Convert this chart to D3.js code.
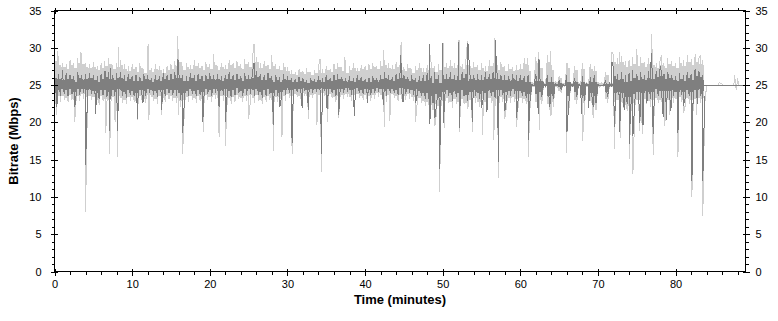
<!DOCTYPE html>
<html>
<head>
<meta charset="utf-8">
<script src="https://cdn.jsdelivr.net/npm/d3@7"></script>
<style>
  body { margin: 0; background: #fff; }
  svg text { font-family: "Liberation Sans", Arial, sans-serif; fill: #000; }
  .axis path { display: none; }
  .axis line { stroke: #000; shape-rendering: crispEdges; }
</style>
</head>
<body>
<svg id="chart" width="778" height="321"></svg>
<script>
// bitrate envelope per half-minute bin (t = 0, 0.5, ... 83.5)
var darkHi = [
  26.8,26.5,26.3,26.6,26.4,26.2,26.7,26.3,26.5,26.6,
  26.4,26.2,26.5,26.9,26.7,26.4,26.6,26.8,26.3,26.5,
  26.2,26.4,26.1,26.5,26.3,26.0,26.4,26.2,26.6,26.3,
  26.5,26.7,26.9,26.4,26.2,26.6,26.3,26.5,26.2,26.4,
  26.6,26.3,26.5,26.2,26.4,26.7,26.3,26.5,26.2,26.6,
  26.4,26.8,26.9,26.5,26.3,26.6,26.2,26.4,26.1,26.5,
  26.2,26.0,25.8,26.1,25.9,25.7,26.0,25.8,26.2,25.9,
  26.3,26.0,26.4,26.5,26.1,25.9,26.2,26.0,26.3,26.1,
  25.8,26.0,26.2,25.9,26.4,26.7,26.3,26.1,26.5,26.6,
  26.4,26.1,26.3,26.0,26.2,26.4,26.6,26.2,26.8,26.3,
  26.7,26.5,26.8,26.4,26.6,26.7,26.5,26.6,26.3,26.5,
  26.4,26.7,26.5,26.8,26.6,26.3,26.4,26.2,26.5,26.3,
  26.4,26.2,26.3,25.1,26.5,26.2,25.2,26.4,26.1,25.2,
  25.6,25.1,26.3,25.2,26.0,25.1,26.2,25.2,26.1,26.4,
  25.1,25.0,25.6,25.2,27.3,26.5,26.8,26.3,26.6,27.0,
  26.5,26.8,26.4,26.9,26.6,26.9,27.3,26.5,26.8,26.4,
  26.2,26.6,26.3,26.8,26.5,27.1,26.9,26.4
];
var darkLo = [
  23.2,23.6,23.8,23.5,23.8,23.3,23.7,23.9,23.6,23.8,
  23.5,23.1,23.7,23.4,23.2,23.6,23.8,23.5,23.3,23.7,
  23.6,23.2,23.8,23.5,23.9,23.7,23.4,23.8,23.6,23.9,
  23.7,23.5,23.0,23.2,23.6,23.8,23.5,23.7,23.4,23.8,
  23.6,23.9,23.5,23.7,23.8,23.4,23.6,23.9,23.5,23.7,
  23.8,23.5,23.7,23.3,23.6,23.8,23.2,23.6,23.4,23.7,
  24.0,23.8,24.1,23.9,24.2,23.8,24.0,24.1,23.9,24.2,
  23.9,24.0,23.6,23.8,24.0,24.1,23.7,23.9,24.0,23.8,
  24.0,23.7,23.9,24.1,23.8,23.6,23.9,24.0,23.7,23.9,
  23.8,24.0,23.7,23.9,23.5,23.2,23.0,22.6,22.8,22.4,
  23.2,23.6,22.9,23.4,23.0,23.5,22.8,23.3,23.6,23.1,
  23.4,23.0,23.6,23.2,23.5,23.7,23.3,23.6,23.8,23.5,
  23.5,23.3,23.0,24.9,22.9,23.4,24.8,22.6,23.1,24.9,
  24.4,24.9,22.7,24.8,23.4,24.9,22.9,24.8,23.2,22.6,
  24.9,25.0,23.6,24.8,22.8,23.2,22.9,22.5,22.4,22.8,
  23.3,23.0,23.4,23.1,23.3,23.6,23.2,23.5,23.3,23.6,
  23.4,23.7,23.3,23.5,23.2,23.4,23.6,23.5
];
var lightHi = [
  29.2,28.4,28.0,27.8,28.3,27.9,28.6,28.4,28.0,27.8,
  28.1,27.6,27.9,28.2,28.6,27.7,28.0,28.4,27.8,27.5,
  27.8,27.4,27.9,27.2,27.6,27.3,27.8,27.5,27.2,27.6,
  27.8,28.2,29.0,27.6,28.0,27.7,28.3,27.9,27.6,28.1,
  27.8,28.3,27.6,28.0,27.7,28.4,27.9,28.2,27.8,28.5,
  28.1,28.6,28.8,27.9,28.2,27.7,28.3,27.8,27.6,28.0,
  27.4,27.0,26.8,27.2,26.9,27.3,26.7,27.0,27.5,27.1,
  27.6,27.2,27.8,28.0,27.4,27.1,27.6,27.9,27.3,27.7,
  27.5,27.8,28.0,27.6,28.2,28.4,27.9,27.7,28.1,27.6,
  27.4,27.8,27.2,27.6,27.9,27.3,27.7,28.0,27.5,27.8,
  28.2,27.9,28.4,28.0,28.3,27.8,28.5,27.9,28.1,27.7,
  28.0,27.6,28.3,27.9,27.7,28.1,27.5,27.8,27.4,27.7,
  27.8,28.6,27.6,25.4,28.8,27.9,25.3,29.0,27.7,25.5,
  26.2,25.3,28.0,25.4,27.6,25.3,27.9,25.4,27.8,27.6,
  25.4,25.3,26.8,25.4,29.0,28.6,28.9,28.2,28.4,28.7,
  28.3,28.8,28.1,28.6,28.4,28.0,28.5,27.9,28.6,28.2,
  28.0,28.7,28.3,28.9,28.5,28.8,28.6,28.4
];
var lightLo = [
  21.5,22.8,23.0,22.7,23.0,22.4,22.8,23.1,22.8,23.0,
  22.7,22.3,22.9,22.5,22.2,22.8,23.0,22.6,22.4,22.9,
  22.8,22.3,23.0,22.6,23.1,22.9,22.5,23.0,22.7,23.1,
  22.9,22.6,22.0,22.3,22.8,23.0,22.6,22.9,22.5,23.0,
  22.8,23.1,22.6,22.9,23.0,22.5,22.8,23.1,22.7,22.9,
  23.0,22.6,22.9,22.4,22.8,23.0,22.3,22.8,22.5,22.9,
  23.3,23.0,23.4,23.1,23.5,23.0,23.3,23.4,23.1,23.5,
  23.1,23.3,22.8,23.0,23.2,23.4,22.9,23.1,23.3,23.0,
  23.2,22.9,23.1,23.4,23.0,22.8,23.1,23.3,22.9,23.1,
  23.0,23.2,22.9,23.1,22.6,22.2,22.0,21.6,21.8,21.4,
  22.2,22.6,21.9,22.4,22.0,22.5,21.8,22.3,22.6,22.1,
  22.4,22.0,22.6,22.2,22.5,22.7,22.3,22.6,22.8,22.5,
  22.6,22.4,22.0,24.7,21.9,22.4,24.8,21.6,22.1,24.6,
  24.0,24.8,21.7,24.7,22.4,24.8,21.9,24.7,22.2,21.6,
  24.7,24.8,22.6,24.7,21.8,22.2,21.9,21.5,21.4,21.8,
  22.3,22.0,22.4,22.1,22.3,22.6,22.2,22.5,22.3,22.6,
  22.4,22.7,22.3,22.5,22.2,22.4,22.6,22.5
];

// single-sample spikes [minutes, Mbps]
var darkSpikes = [
  [0.3,22.0],[1.0,27.0],[2.6,22.0],[4.0,14.3],[5.3,21.1],[7.1,18.8],[7.2,27.3],[8.1,18.9],
  [10.7,20.5],[11.4,22.6],[13.8,21.6],[15.9,28.5],[16.5,18.6],[19.1,20.0],[21.2,22.0],[22.0,20.0],
  [25.7,28.0],[28.2,19.6],[29.0,22.0],[30.6,17.2],[31.9,21.9],[32.7,21.6],[34.4,15.8],[35.1,21.8],
  [36.6,21.0],[38.6,20.9],[40.3,22.6],[42.4,22.3],[44.6,29.0],[44.9,22.7],[46.5,22.6],[48.25,30.5],
  [48.35,19.8],[49.0,20.6],[49.6,13.8],[50.0,30.6],[50.1,19.9],[52.05,30.8],[52.15,19.2],[53.25,30.7],
  [53.8,20.0],[55.0,21.9],[55.7,21.4],[56.75,31.0],[57.2,14.7],[58.0,21.5],[59.5,20.6],[61.0,17.6],
  [62.3,21.1],[62.4,28.5],[63.8,22.0],[66.0,18.7],[67.9,21.1],[68.8,21.9],[69.4,22.0],[71.2,23.5],
  [71.8,28.1],[72.1,19.4],[72.8,18.7],[73.4,21.6],[74.0,17.1],[74.5,18.2],[75.4,19.9],[75.8,19.6],
  [76.3,22.6],[76.85,29.3],[77.1,18.5],[78.1,27.5],[78.4,20.7],[78.8,20.3],[79.4,21.5],[80.3,18.6],
  [81.0,22.2],[82.1,12.2],[82.8,22.4],[83.5,12.2]
];
var lightSpikes = [
  [0.3,21.0],[0.4,29.5],[2.6,20.0],[3.4,29.4],[4.0,7.95],[6.6,18.6],[7.1,15.7],[7.8,20.0],
  [8.1,15.4],[8.2,30.1],[10.7,20.3],[12.05,30.5],[12.15,20.3],[13.8,21.0],[15.9,31.6],[15.95,21.0],
  [16.5,15.7],[19.2,18.7],[20.5,29.2],[21.2,18.0],[22.0,16.8],[25.0,20.5],[25.7,30.5],[28.0,29.0],
  [28.2,16.2],[29.3,18.1],[30.6,15.8],[32.7,20.4],[33.8,19.6],[34.2,28.5],[34.4,13.3],[35.2,20.0],
  [36.6,20.6],[37.4,28.7],[42.4,29.7],[42.45,19.4],[43.2,20.2],[44.65,30.8],[46.5,20.0],[48.3,29.6],
  [49.0,19.5],[49.6,10.6],[50.05,30.7],[50.2,19.2],[52.1,31.0],[52.2,18.7],[53.2,30.9],[53.8,18.7],
  [55.1,18.3],[56.6,17.6],[56.7,31.3],[57.2,12.6],[58.0,20.5],[59.5,19.4],[60.9,28.6],[61.0,15.4],
  [62.4,29.4],[62.45,19.0],[63.9,29.6],[63.95,20.8],[66.0,15.9],[66.05,28.0],[68.0,17.5],[69.4,20.6],
  [71.8,29.4],[72.1,16.4],[72.8,29.4],[72.9,17.9],[74.0,15.1],[74.5,13.1],[75.0,29.8],[75.4,18.9],
  [75.7,18.5],[76.9,31.9],[77.1,15.6],[78.2,29.0],[78.6,19.5],[79.0,28.6],[79.2,21.0],[80.3,15.4],
  [81.0,21.2],[81.5,29.0],[82.1,10.0],[82.5,29.2],[82.7,21.0],[83.2,29.0],[83.5,7.5]
];
// stray peak samples after the stream ends
var lightTail = [
  [84.0,25.0],[85.5,25.0],[85.6,25.3],[85.9,25.2],[86.1,25.0],[87.5,25.0],
  [87.6,26.3],[87.8,24.4],[88.0,25.9],[88.1,25.0]
];
var targetRate = 25;

var xTicks = [0, 10, 20, 30, 40, 50, 60, 70, 80];
var xMinor = d3.range(0, 89, 2);
var yTicks = [0, 5, 10, 15, 20, 25, 30, 35];
var yMinor = d3.range(0, 35.1, 1);

var binTimes = d3.range(0, 84, 0.5);

function main() {
  var svg = d3.select("#chart");
  var plotLeft = 54.5, plotRight = 745.5, plotTop = 10.5, plotBottom = 271.5;

  var x = d3.scaleLinear().domain([0, 89]).range([plotLeft, plotRight]);
  var y = d3.scaleLinear().domain([0, 35]).range([plotBottom, plotTop]);

  // dense core of each bin (the samples crowd in the middle of the envelope),
  // the outer part is left to the line so the edges stay hairy
  function buildCore(hi, lo, inset) {
    return binTimes.map(function (t, i) {
      var span = hi[i] - lo[i];
      return { t: t + 0.125, hi: hi[i] - span * inset, lo: lo[i] + span * inset };
    });
  }

  // turn envelope bins + spikes into one line of samples
  function buildSeries(hi, lo, spikes) {
    var pts = [];
    binTimes.forEach(function (t, i) {
      pts.push([t, hi[i]]);
      pts.push([t + 0.25, lo[i]]);
    });
    spikes.forEach(function (s) { pts.push(s); });
    pts.sort(function (a, b) { return a[0] - b[0]; });
    return pts;
  }

  var band = d3.area()
    .x(function (d) { return x(d.t); })
    .y0(function (d) { return y(d.lo); })
    .y1(function (d) { return y(d.hi); })
    .curve(d3.curveStep);

  var line = d3.line()
    .x(function (d) { return x(d[0]); })
    .y(function (d) { return y(d[1]); });

  var plot = svg.append("g");

  function drawSeries(hi, lo, spikes, color, inset) {
    plot.append("path")
      .datum(buildCore(hi, lo, inset))
      .attr("d", band)
      .attr("fill", color)
      .attr("stroke", "none")
      .attr("shape-rendering", "crispEdges");
    plot.append("path")
      .datum(buildSeries(hi, lo, spikes))
      .attr("d", line)
      .attr("fill", "none")
      .attr("stroke", color)
      .attr("stroke-width", 1)
      .attr("shape-rendering", "crispEdges");
  }

  // peak series (light)
  drawSeries(lightHi, lightLo, lightSpikes.concat(lightTail), "#cfcfcf", 0.12);

  // target line
  var ty = Math.round(y(targetRate)) + 0.5;
  plot.append("line")
    .attr("x1", x(0)).attr("x2", x(89))
    .attr("y1", ty).attr("y2", ty)
    .attr("stroke", "#7f7f7f");

  // average series (dark)
  drawSeries(darkHi, darkLo, darkSpikes, "#7f7f7f", 0.25);

  // frame
  svg.append("rect")
    .attr("x", plotLeft).attr("y", plotTop)
    .attr("width", plotRight - plotLeft).attr("height", plotBottom - plotTop)
    .attr("fill", "none").attr("stroke", "#000")
    .attr("shape-rendering", "crispEdges");

  function noLabels() { return ""; }

  function axisGroup(tx, ty) {
    return svg.append("g").attr("class", "axis")
      .attr("transform", "translate(" + tx + "," + ty + ")");
  }

  // left axis: labels + outer ticks, minor ticks, inner half of major ticks
  axisGroup(plotLeft, 0)
    .call(d3.axisLeft(y).tickValues(yTicks).tickSize(4).tickPadding(9))
    .selectAll("text").style("font-size", "11px");
  axisGroup(plotLeft, 0)
    .call(d3.axisLeft(y).tickValues(yMinor).tickSize(3).tickFormat(noLabels));
  axisGroup(plotLeft, 0)
    .call(d3.axisRight(y).tickValues(yTicks).tickSize(3).tickFormat(noLabels));

  // right axis
  axisGroup(plotRight, 0)
    .call(d3.axisRight(y).tickValues(yTicks).tickSize(4).tickPadding(6))
    .selectAll("text").style("font-size", "11px");
  axisGroup(plotRight, 0)
    .call(d3.axisRight(y).tickValues(yMinor).tickSize(3).tickFormat(noLabels));
  axisGroup(plotRight, 0)
    .call(d3.axisLeft(y).tickValues(yTicks).tickSize(3).tickFormat(noLabels));

  // bottom axis
  axisGroup(0, plotBottom)
    .call(d3.axisBottom(x).tickValues(xTicks).tickSize(4).tickPadding(5))
    .selectAll("text").style("font-size", "11px");
  axisGroup(0, plotBottom)
    .call(d3.axisBottom(x).tickValues(xMinor).tickSize(3).tickFormat(noLabels));
  axisGroup(0, plotBottom)
    .call(d3.axisTop(x).tickValues(xTicks).tickSize(3).tickFormat(noLabels));

  // top axis (ticks only)
  axisGroup(0, plotTop)
    .call(d3.axisTop(x).tickValues(xMinor).tickSize(3).tickFormat(noLabels));
  axisGroup(0, plotTop)
    .call(d3.axisBottom(x).tickValues(xTicks).tickSize(3).tickFormat(noLabels));

  // axis titles
  svg.append("text")
    .attr("transform", "translate(18," + ((plotTop + plotBottom) / 2) + ") rotate(-90)")
    .attr("text-anchor", "middle")
    .style("font-size", "13px").style("font-weight", "bold")
    .text("Bitrate (Mbps)");
  svg.append("text")
    .attr("x", (plotLeft + plotRight) / 2).attr("y", 304)
    .attr("text-anchor", "middle")
    .style("font-size", "13px").style("font-weight", "bold")
    .text("Time (minutes)");
}

main();
</script>
</body>
</html>
